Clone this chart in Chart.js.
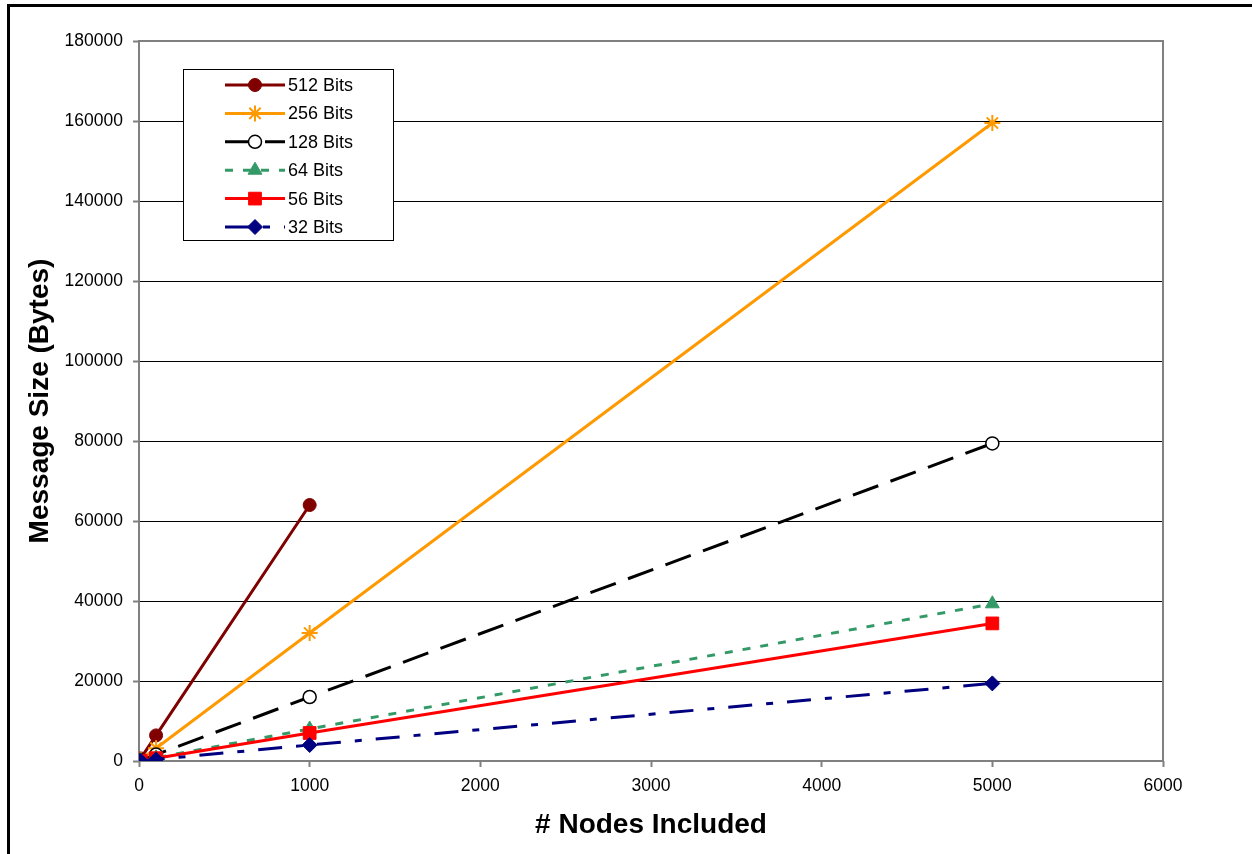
<!DOCTYPE html>
<html>
<head>
<meta charset="utf-8">
<script src="https://cdn.jsdelivr.net/npm/chart.js@4/dist/chart.umd.min.js"></script>
<style>
  html, body { margin: 0; padding: 0; background: #fff; }
  #wrap { position: relative; width: 1253px; height: 854px; overflow: hidden; }
  #wrap canvas { position: absolute; left: 0; top: 0; }
  #frame { position: absolute; left: 7px; top: 4px; right: 1px; bottom: -10px;
           border-top: 3px solid #000; border-left: 3px solid #000; pointer-events: none; }
</style>
</head>
<body>
<div id="wrap">
  <canvas id="chart" width="1253" height="854"></canvas>
  <div id="frame"></div>
</div>
<script>
// Number of nodes included in the message
const nodeCounts = [10, 100, 1000, 5000];

// Message size in bytes for each key length
const bits512 = [640, 6400, 64000];
const bits256 = [320, 3200, 32000, 159500];
const bits128 = [160, 1600, 16000, 79400];
const bits64  = [80, 800, 8000, 39300];
const bits56  = [70, 700, 7000, 34400];
const bits32  = [40, 400, 4000, 19400];

const seriesLabels = ['512 Bits', '256 Bits', '128 Bits', '64 Bits', '56 Bits', '32 Bits'];

// Axis tick values
const xTickValues = [0, 1000, 2000, 3000, 4000, 5000, 6000];
const yTickValues = [0, 20000, 40000, 60000, 80000, 100000, 120000, 140000, 160000, 180000];

const FONT = "'Liberation Sans', Arial, Helvetica, sans-serif";

function points(values) {
  return values.map((v, i) => ({ x: nodeCounts[i], y: v }));
}

const styles = [
  { color: '#800000', dash: [],               style: 'circle',   radius: 6.5, fill: '#800000', bw: 1 },
  { color: '#FF9900', dash: [],               style: 'star',     radius: 8,   fill: '#FF9900', bw: 2 },
  { color: '#000000', dash: [27, 13],         style: 'circle',   radius: 6.5, fill: '#FFFFFF', bw: 1.5 },
  { color: '#339966', dash: [8, 10],          style: 'triangle', radius: 8,   fill: '#339966', bw: 1 },
  { color: '#FF0000', dash: [],               style: 'rect',     radius: 9,   fill: '#FF0000', bw: 1 },
  { color: '#000080', dash: [24, 14, 7, 14],  style: 'rectRot',  radius: 7.5, fill: '#000080', bw: 1 }
];

const seriesValues = [bits512, bits256, bits128, bits64, bits56, bits32];

// Later series are drawn on top of earlier ones
const datasets = seriesValues.map((vals, i) => {
  const s = styles[i];
  return {
    label: seriesLabels[i],
    data: points(vals),
    showLine: true,
    borderColor: s.color,
    borderWidth: 3,
    borderDash: s.dash,
    fill: false,
    tension: 0,
    pointStyle: s.style,
    pointRadius: s.radius,
    pointHoverRadius: s.radius,
    pointBackgroundColor: s.fill,
    pointBorderColor: s.color,
    pointBorderWidth: s.bw,
    order: seriesValues.length - i
  };
});

// Grey frame around the plot area
const plotFrame = {
  id: 'plotFrame',
  beforeDatasetsDraw(chart) {
    const a = chart.chartArea, ctx = chart.ctx;
    ctx.save();
    ctx.strokeStyle = '#808080';
    ctx.lineWidth = 2;
    ctx.strokeRect(a.left, a.top, a.right - a.left, a.bottom - a.top);
    ctx.restore();
  }
};

// Boxed legend inside the plot area
const boxedLegend = {
  id: 'boxedLegend',
  afterDraw(chart) {
    const ctx = chart.ctx;
    const box = { x: 183.5, y: 69.5, w: 210, h: 171 };
    ctx.save();
    ctx.fillStyle = '#fff';
    ctx.fillRect(box.x, box.y, box.w, box.h);
    ctx.strokeStyle = '#000';
    ctx.lineWidth = 1;
    ctx.setLineDash([]);
    ctx.strokeRect(box.x, box.y, box.w, box.h);
    chart.data.datasets.forEach((ds, i) => {
      const y = 85 + i * 28.4;
      ctx.save();
      ctx.strokeStyle = ds.borderColor;
      ctx.lineWidth = ds.borderWidth;
      ctx.setLineDash(ds.borderDash || []);
      ctx.beginPath();
      ctx.moveTo(225, y);
      ctx.lineTo(285, y);
      ctx.stroke();
      ctx.setLineDash([]);
      ctx.fillStyle = ds.pointBackgroundColor;
      ctx.strokeStyle = ds.pointBorderColor;
      ctx.lineWidth = ds.pointBorderWidth;
      Chart.helpers.drawPoint(ctx, {
        pointStyle: ds.pointStyle, rotation: 0,
        radius: ds.pointRadius, borderWidth: ds.pointBorderWidth
      }, 255, y);
      ctx.restore();
      ctx.fillStyle = '#000';
      ctx.font = "18px " + FONT;
      ctx.textBaseline = 'middle';
      ctx.textAlign = 'left';
      ctx.fillText(ds.label, 288, y + 1);
    });
    ctx.restore();
  }
};

new Chart(document.getElementById('chart'), {
  type: 'scatter',
  data: { datasets },
  options: {
    responsive: false,
    animation: false,
    devicePixelRatio: 1,
    layout: { padding: { top: 41, right: 90, bottom: 0, left: 0 } },
    plugins: { legend: { display: false }, tooltip: { enabled: false } },
    scales: {
      x: {
        type: 'linear',
        min: 0, max: 6000,
        afterBuildTicks: s => { s.ticks = xTickValues.map(v => ({ value: v })); },
        afterFit: s => { s.height = 93; },
        grid: { drawOnChartArea: false, drawTicks: true, tickLength: 6, tickColor: '#808080', tickWidth: 2 },
        border: { display: false },
        ticks: { color: '#000', font: { family: FONT, size: 17.5 }, padding: 9,
                 maxRotation: 0, autoSkip: false, callback: v => String(v) },
        title: { display: true, text: '# Nodes Included', color: '#000',
                 font: { family: FONT, size: 28, weight: 'bold' }, padding: { top: 0, bottom: 12 } }
      },
      y: {
        type: 'linear',
        min: 0, max: 180000,
        afterBuildTicks: s => { s.ticks = yTickValues.map(v => ({ value: v })); },
        afterFit: s => { s.width = 139; },
        grid: { color: '#000', lineWidth: 1, drawTicks: true, tickLength: 6, tickColor: '#808080', tickWidth: 2 },
        border: { display: false },
        ticks: { color: '#000', font: { family: FONT, size: 17.5 }, padding: 10,
                 autoSkip: false, callback: v => String(v) },
        title: { display: true, text: 'Message Size (Bytes)', color: '#000',
                 font: { family: FONT, size: 28, weight: 'bold' }, padding: { top: 23, bottom: 0 } }
      }
    }
  },
  plugins: [plotFrame, boxedLegend]
});
</script>
</body>
</html>
